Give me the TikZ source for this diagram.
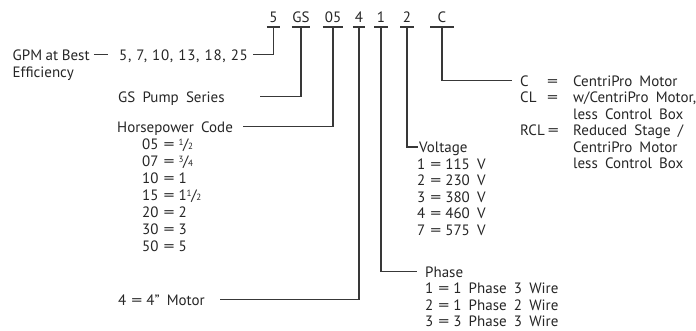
\documentclass[tikz,border=0pt]{standalone}
\usepackage{graphicx}
\usepackage{fontspec}
\setmainfont{PT Sans}[WordSpace=1.8]
\definecolor{ink}{HTML}{262626}
\definecolor{wire}{HTML}{383838}
\newcommand\dgfont{\fontsize{15pt}{16.5pt}\selectfont}
\newcommand\eqsign{\scalebox{1.45}[1]{=}}
\newcommand\eq{\kern5pt\eqsign\kern4pt}
\newcommand\myfrac[2]{\raisebox{4pt}{\fontsize{9pt}{9pt}\selectfont#1}\kern-0.3pt/\kern-0.3pt{\fontsize{9pt}{9pt}\selectfont#2}}
\begin{document}
\begin{tikzpicture}[x=1pt,y=-1pt,
  txt/.style={inner sep=0pt, text height=11pt, text depth=0pt, anchor=base west, text=ink, font=\dgfont},
  code/.style={anchor=south, inner xsep=0pt, inner ysep=0pt, text height=10.5pt, text depth=4pt, text=ink, font=\dgfont},
  wireline/.style={draw=wire, line width=1.2pt}]
\fill[white] (0,0) rectangle (696,330);
\useasboundingbox (0,0) rectangle (696,330);

% code row
\node[code, minimum width=13pt] (k5)  at (273.5,27) {5};
\node[code, minimum width=18pt] (kGS) at (301,27) {GS};
\node[code, minimum width=20pt] (k05) at (333,27) {05};
\node[code, minimum width=12pt] (k4)  at (359,27) {4};
\node[code, minimum width=13pt] (k1)  at (381,27) {1};
\node[code, minimum width=13pt] (k2)  at (407,27) {2};
\node[code, minimum width=23pt] (kC)  at (442,27) {C};
\foreach \n in {k5,kGS,k05,k4,k1,k2,kC}
  \draw[wireline] (\n.south west) -- (\n.south east);

% GPM
\node[txt] (gpm) at (12.5,60) {\spaceskip=3.6pt GPM at Best};
\node[txt] (eff) at (12.5,77) {Efficiency};
\node[txt] (vals) at (119,60) {\addfontfeature{LetterSpace=5}\spaceskip=5pt 5, 7, 10, 13, 18, 25};
\draw[wireline] ([xshift=4pt]gpm.east) -- ([xshift=-11pt]vals.west);
\draw[wireline] (k5.south) |- ([xshift=5pt]vals.east);

% GS
\node[txt] (gs) at (118,102) {GS Pump Series};
\draw[wireline] (kGS.south) |- ([xshift=35pt]gs.east);

% Horsepower
\node[txt] (hp) at (117,132) {Horsepower Code};
\draw[wireline] (k05.south) |- ([xshift=10pt]hp.east);
\node[txt] (hp1) at (142,149) {05\eq\myfrac{1}{2}};
\node[txt] (hp2) at (142,166) {07\eq\myfrac{3}{4}};
\node[txt] (hp3) at (142,183) {10\eq1};
\node[txt] (hp4) at (142,200) {15\eq1\myfrac{1}{2}};
\node[txt] (hp5) at (142,217) {20\eq2};
\node[txt] (hp6) at (142,234) {30\eq3};
\node[txt] (hp7) at (142,251) {50\eq5};

% Motor
\node[txt] (motor) at (118,305) {4\eq4" Motor};
\draw[wireline] (k4.south) |- ([xshift=15pt]motor.east);

% Phase
\node[txt] (ph) at (425,277) {Phase};
\node[txt] (ph1) at (425,293.5) {1\eq1 Phase 3 Wire};
\node[txt] (ph2) at (425,310) {2\eq1 Phase 2 Wire};
\node[txt] (ph3) at (425,326.5) {3\eq3 Phase 3 Wire};
\draw[wireline] (k1.south) |- ([xshift=-8pt]ph.west);

% Voltage
\node[txt] (vo) at (419,152.5) {Voltage};
\node[txt] (vo1) at (417,169) {1\eq115 V};
\node[txt] (vo2) at (417,185.5) {2\eq230 V};
\node[txt] (vo3) at (417,202) {3\eq380 V};
\node[txt] (vo4) at (417,218.5) {4\eq460 V};
\node[txt] (vo5) at (417,235) {7\eq575 V};
\draw[wireline] (k2.south) |- ([xshift=-1pt]vo.west);

% Motor type
\node[txt] (c1) at (520,86) {\makebox[27pt][l]{C}\makebox[26pt][l]{\eqsign}CentriPro Motor};
\node[txt] (c2) at (520,102.5) {\makebox[27pt][l]{CL}\makebox[26pt][l]{\eqsign}w/CentriPro Motor,};
\node[txt] (c3) at (520,119) {\hspace*{53pt}less Control Box};
\node[txt] (c4) at (520,135.5) {\makebox[53pt][l]{RCL\kern3pt\eqsign}Reduced Stage /};
\node[txt] (c5) at (520,152) {\hspace*{53pt}CentriPro Motor};
\node[txt] (c6) at (520,168.5) {\hspace*{53pt}less Control Box};
\draw[wireline] (kC.south) |- ([xshift=-8pt]c1.west);
\end{tikzpicture}
\end{document}
